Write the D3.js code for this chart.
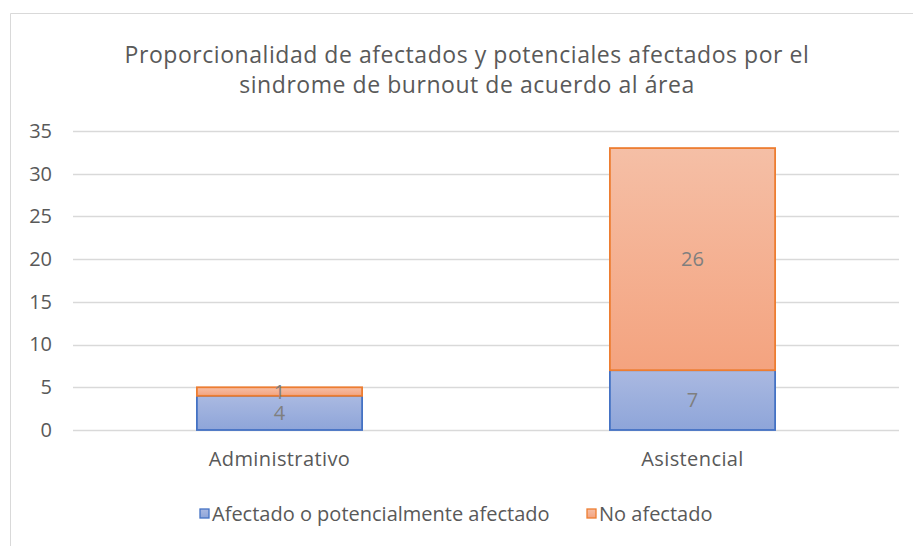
<!DOCTYPE html>
<html><head><meta charset="utf-8">
<script src="https://cdn.jsdelivr.net/npm/d3@7"></script>
<style>body{margin:0;background:#fff;} text{font-family:"Open Sans",sans-serif;fill:#595959;}</style>
</head><body>
<svg id="c" width="913" height="546"></svg>
<script>
const categories = ["Administrativo", "Asistencial"];
const seriesNames = ["Afectado o potencialmente afectado", "No afectado"];
const afectado = [4, 7];
const noAfectado = [1, 26];
const yTicks = [0, 5, 10, 15, 20, 25, 30, 35];
const titleLines = ["Proporcionalidad de afectados y potenciales afectados por el", "sindrome de burnout de acuerdo al área"];

const svg = d3.select("#c");
const defs = svg.append("defs");
function grad(id, c1, c2){
  const g = defs.append("linearGradient").attr("id", id).attr("x1",0).attr("y1",0).attr("x2",0).attr("y2",1);
  g.append("stop").attr("offset","0%").attr("stop-color",c1);
  g.append("stop").attr("offset","100%").attr("stop-color",c2);
}
grad("gb", "#aab9e1", "#8ea5d9");
grad("go", "#f5bfa6", "#f4a37f");
const fills = ["url(#gb)", "url(#go)"];
const strokes = ["#4472c4", "#ed7d31"];

// chart border
svg.append("path").attr("d","M10.5,546 V13.5 H913").attr("fill","none").attr("stroke","#d9d9d9").attr("stroke-width",1);

const margin = {left:73, right:899, top:131, bottom:430};
const x = d3.scaleBand().domain(categories).range([margin.left, margin.right]).paddingInner(0.6).paddingOuter(0.3);
const y = d3.scaleLinear().domain([0,35]).range([margin.bottom, margin.top]);

// title
svg.append("text").attr("x",467).attr("y",63).attr("text-anchor","middle").style("font-size","23px").style("letter-spacing","0.55px")
  .selectAll("tspan").data(titleLines).join("tspan").attr("x",467).attr("dy",(d,i)=>i?30:0).text(d=>d);

// gridlines
svg.append("g").selectAll("line").data(yTicks).join("line")
  .attr("x1",margin.left).attr("x2",margin.right).attr("y1",d=>Math.round(y(d))+0.5).attr("y2",d=>Math.round(y(d))+0.5)
  .attr("stroke","#d9d9d9").attr("stroke-width",1.3);

// y axis
const yAxis = d3.axisLeft(y).tickValues(yTicks).tickSize(0).tickPadding(0);
const ga = svg.append("g").attr("transform",`translate(52,0)`).call(yAxis);
ga.select(".domain").remove();
ga.selectAll("text").style("font-size","20px").attr("fill","#595959").style("font-family","'Open Sans',sans-serif");

// x axis
const xAxis = d3.axisBottom(x).tickSize(0).tickPadding(0);
const gx = svg.append("g").attr("transform",`translate(0,${margin.bottom+22})`).call(xAxis);
gx.select(".domain").remove();
gx.selectAll("text").style("font-size","20px").style("letter-spacing","0.4px").attr("fill","#595959").style("font-family","'Open Sans',sans-serif");

// stacks
const rows = categories.map((c,i)=>({cat:c, a:afectado[i], n:noAfectado[i]}));
const stack = d3.stack().keys(["a","n"])(rows);
stack.forEach((layer, li)=>{
  const g = svg.append("g");
  g.selectAll("rect").data(layer).join("rect")
    .attr("x", d=>x(d.data.cat)).attr("width", x.bandwidth())
    .attr("y", d=>y(d[1])).attr("height", d=>y(d[0])-y(d[1]))
    .attr("fill", fills[li]).attr("stroke", strokes[li]).attr("stroke-width",1.8);
});
stack.forEach((layer, li)=>{
  svg.append("g").selectAll("text").data(layer).join("text")
    .attr("x", d=>x(d.data.cat)+x.bandwidth()/2).attr("y", d=>(y(d[0])+y(d[1]))/2)
    .attr("dy","0.35em").attr("text-anchor","middle").style("font-size","20px").style("fill","#7f7f7f")
    .text(d=>d[1]-d[0]);
});

// legend
const legX = [200, 587];
const lg = svg.append("g").selectAll("g").data(seriesNames).join("g").attr("transform",(d,i)=>`translate(${legX[i]},509)`);
lg.append("rect").attr("width",9).attr("height",9).attr("fill",(d,i)=>fills[i]).attr("stroke",(d,i)=>strokes[i]).attr("stroke-width",1.3);
lg.append("text").attr("x",12).attr("y",5).attr("dy","0.35em").style("font-size","20px").text(d=>d);
</script>
</body></html>
